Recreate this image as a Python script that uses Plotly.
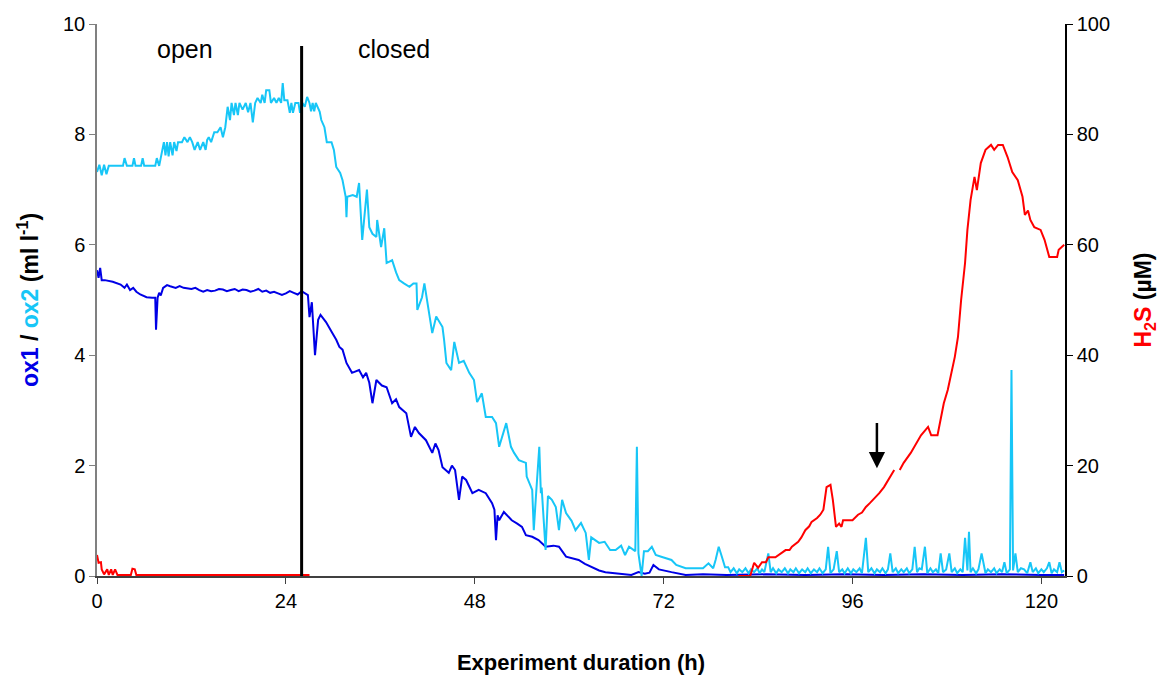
import plotly.graph_objects as go

# ---------------- data ----------------
ox2_t = [0.0, 0.3, 0.6, 0.9, 1.2, 1.5, 2.5, 3.3, 3.5, 3.8, 4.5, 4.7, 4.9, 5.6, 5.8, 6.0, 7.4, 7.6, 7.9,
         8.2, 8.5, 8.7, 8.9, 9.1, 9.3, 9.6, 9.8, 10.1, 10.3, 10.8, 11.1, 11.5, 11.8, 12.1, 12.4, 12.8,
         13.1, 13.5, 13.8, 14.0, 14.2, 14.5, 14.9, 15.3, 15.7, 16.0, 16.3, 16.6, 16.9, 17.1, 17.4, 17.6,
         17.9, 18.1, 18.5, 18.9, 19.2, 19.5, 19.8, 20.1, 20.4, 20.8, 21.0, 21.3, 21.5, 21.9, 22.1, 22.5,
         22.8, 23.1, 23.4, 23.6, 23.8, 24.2, 24.5, 24.7, 24.9, 25.2, 25.6, 25.8, 26.1, 26.4, 26.7, 27.0,
         27.2, 27.4, 27.6, 27.8, 28.3, 28.5, 28.9, 29.2, 29.8, 30.1, 30.4, 30.9, 31.2, 31.6, 31.7, 31.8,
         32.5, 33.0, 33.3, 33.7, 34.0, 34.3, 34.6, 35.0, 35.5, 35.6, 36.1, 36.5, 36.8, 37.5, 38.0, 38.4,
         39.0, 39.7, 40.2, 40.6, 40.7, 41.3, 41.6, 42.0, 42.6, 43.1, 43.9, 44.1, 44.4, 45.0, 45.4, 46.0,
         46.6, 47.3, 47.9, 48.3, 48.9, 49.4, 50.2, 50.7, 51.1, 52.0, 52.6, 53.0, 53.6, 54.5, 54.6, 55.3,
         55.5, 55.8, 56.2, 56.4, 56.5, 57.0, 57.3, 57.8, 58.3, 58.7, 59.1, 59.6, 60.3, 60.8, 61.5, 62.1,
         62.5, 62.8, 63.8, 64.5, 65.2, 65.9, 66.6, 67.1, 67.6, 68.4, 68.6, 68.8, 69.2, 69.5, 70.0, 70.5,
         71.0, 71.7, 72.3, 73.0, 73.6, 74.3, 74.8, 75.5, 76.4, 77.0, 77.7, 78.3, 78.6, 79.0, 79.4, 79.8,
         80.2, 80.5, 80.9, 81.3, 81.6, 82.0, 82.4, 82.8, 83.1, 83.5, 83.9, 84.2, 84.5, 84.8, 85.3, 85.6,
         85.9, 86.3, 86.6, 87.0, 87.4, 87.8, 88.1, 88.5, 88.8, 89.2, 89.6, 90.0, 90.3, 90.7, 91.1, 91.5,
         91.8, 92.2, 92.6, 92.9, 93.2, 93.6, 94.0, 94.3, 94.7, 95.0, 95.4, 95.8, 96.1, 96.5, 96.9, 97.2,
         97.7, 98.0, 98.4, 98.8, 99.1, 99.5, 99.8, 100.2, 100.5, 100.8, 101.1, 101.5, 101.8, 102.2,
         102.5, 102.9, 103.2, 103.6, 103.9, 104.2, 104.5, 104.8, 105.2, 105.5, 105.9, 106.2, 106.6,
         106.9, 107.2, 107.5, 107.9, 108.3, 108.6, 109.0, 109.3, 109.7, 110.0, 110.3, 110.6, 110.8,
         111.0, 111.3, 111.7, 112.0, 112.4, 112.9, 113.2, 113.6, 114.0, 114.3, 114.7, 115.0, 115.3,
         115.6, 116.0, 116.2, 116.4, 116.7, 117.0, 117.4, 117.8, 118.2, 118.6, 118.9, 119.3, 119.6,
         120.0, 120.3, 120.7, 121.0, 121.3, 121.6, 122.0, 122.3, 122.6, 122.9]
ox2_v = [7.32, 7.45, 7.26, 7.45, 7.28, 7.43, 7.43, 7.43, 7.57, 7.43, 7.43, 7.57, 7.43, 7.43, 7.57, 7.43, 7.43, 7.57, 7.43,
         7.66, 7.86, 7.62, 7.86, 7.6, 7.86, 7.62, 7.86, 7.7, 7.86, 7.86, 7.95, 7.86, 7.95, 7.86, 7.72, 7.86,
         7.72, 7.86, 7.72, 7.9, 7.95, 7.86, 8.04, 8.04, 8.13, 7.95, 8.13, 8.5, 8.26, 8.57, 8.35, 8.57,
         8.35, 8.57, 8.45, 8.57, 8.4, 8.57, 8.22, 8.57, 8.66, 8.57, 8.72, 8.57, 8.8, 8.8, 8.57, 8.66,
         8.57, 8.66, 8.57, 8.93, 8.62, 8.62, 8.39, 8.57, 8.39, 8.57, 8.57, 8.39, 8.57, 8.5, 8.68, 8.57,
         8.42, 8.57, 8.42, 8.57, 8.41, 8.26, 8.13, 7.86, 7.86, 7.72, 7.41, 7.3, 7.17, 6.87, 6.5, 6.87,
         6.9, 6.87, 7.12, 6.09, 6.6, 7.0, 6.32, 6.2, 6.14, 6.45, 5.96, 6.3, 5.67, 5.72, 5.5, 5.36,
         5.3, 5.24, 5.3, 5.3, 4.82, 5.05, 5.3, 4.95, 4.4, 4.7, 4.51, 4.28, 3.86, 3.73, 4.24, 3.86,
         3.9, 3.68, 3.55, 3.15, 3.31, 2.88, 2.88, 2.77, 2.34, 2.77, 2.34, 2.23, 2.1, 2.05, 1.8, 1.56,
         0.83, 1.5, 2.34, 1.5, 1.6, 0.47, 1.45, 1.38, 1.25, 0.83, 1.38, 1.14, 1.0, 0.83, 0.96, 0.78,
         0.29, 0.7, 0.6, 0.62, 0.47, 0.47, 0.55, 0.38, 0.53, 0.45, 2.34, 0.41, 0.0, 0.45, 0.45, 0.53,
         0.38, 0.35, 0.32, 0.29, 0.2, 0.16, 0.14, 0.14, 0.14, 0.14, 0.23, 0.14, 0.29, 0.53, 0.35, 0.16,
         0.16, 0.07, 0.14, 0.05, 0.12, 0.07, 0.14, 0.05, 0.12, 0.07, 0.14, 0.05, 0.12, 0.07, 0.41, 0.07,
         0.14, 0.05, 0.12, 0.07, 0.14, 0.05, 0.12, 0.07, 0.14, 0.05, 0.12, 0.07, 0.14, 0.05, 0.12, 0.07,
         0.14, 0.05, 0.12, 0.53, 0.05, 0.12, 0.45, 0.07, 0.12, 0.05, 0.14, 0.05, 0.12, 0.07, 0.14, 0.05,
         0.69, 0.07, 0.14, 0.05, 0.12, 0.07, 0.14, 0.05, 0.12, 0.41, 0.07, 0.14, 0.05, 0.12,
         0.07, 0.14, 0.05, 0.12, 0.53, 0.07, 0.14, 0.12, 0.53, 0.05, 0.14, 0.07, 0.12,
         0.05, 0.41, 0.07, 0.12, 0.41, 0.07, 0.14, 0.05, 0.12, 0.07, 0.69, 0.1,
         0.8, 0.07, 0.14, 0.05, 0.12, 0.41, 0.05, 0.12, 0.07, 0.14, 0.05, 0.12, 0.07,
         0.25, 0.05, 0.12, 3.73, 0.1, 0.41, 0.07, 0.14, 0.12, 0.05, 0.25, 0.07, 0.14, 0.05,
         0.12, 0.07, 0.14, 0.25, 0.05, 0.12, 0.07, 0.25, 0.07, 0.1]

ox1_t = [0.0, 0.2, 0.4, 0.6, 1.0, 2.0, 3.0, 3.5, 3.8, 4.2, 4.6, 5.0, 5.5, 6.3, 7.0, 7.4, 7.5, 7.7, 7.9,
         8.1, 8.4, 8.9, 9.3, 10.0, 10.5, 11.0, 12.0, 12.5, 13.0, 13.5, 14.0, 14.5, 15.0, 15.5, 16.0,
         16.5, 17.0, 17.5, 18.0, 18.5, 19.0, 19.5, 20.0, 20.5, 21.0, 21.5, 22.0, 22.5, 23.0, 23.5, 24.0,
         24.5, 25.0, 25.5, 26.0, 26.5, 26.8, 27.0, 27.3, 27.7, 28.1, 28.4, 29.1, 29.9, 30.4, 30.8, 31.2,
         31.7, 32.4, 33.3, 33.8, 34.2, 34.6, 35.0, 35.5, 36.2, 36.8, 37.5, 38.0, 38.4, 39.3, 39.9, 40.4,
         40.9, 41.8, 42.6, 43.0, 43.4, 43.9, 44.7, 45.1, 45.5, 46.0, 46.4, 46.9, 47.7, 48.5, 49.4, 50.2,
         50.5, 50.7, 50.9, 51.1, 51.7, 52.7, 53.4, 54.0, 54.5, 55.3, 56.1, 57.0, 58.0, 58.7, 59.6, 60.5,
         61.2, 62.0, 62.9, 63.8, 64.6, 66.0, 67.9, 68.8, 69.6, 70.2, 70.7, 71.4, 72.2, 73.0, 74.8, 77.0,
         80.0, 85.0, 90.0, 95.0, 100.0, 105.0, 110.0, 115.0, 120.0, 122.9]
ox1_v = [5.54, 5.4, 5.58, 5.36, 5.36, 5.33, 5.28, 5.22, 5.28, 5.18, 5.22, 5.15, 5.1, 5.05, 5.04, 5.04, 4.46, 5.04, 5.13,
         5.08, 5.22, 5.27, 5.25, 5.22, 5.25, 5.22, 5.2, 5.22, 5.18, 5.15, 5.18, 5.16, 5.17, 5.2, 5.19,
         5.16, 5.18, 5.2, 5.16, 5.19, 5.18, 5.15, 5.17, 5.2, 5.15, 5.17, 5.13, 5.15, 5.12, 5.09, 5.12,
         5.16, 5.13, 5.1, 5.16, 5.12, 5.09, 4.69, 4.96, 4.0, 4.64, 4.73, 4.6, 4.4, 4.28, 4.15, 4.1,
         3.86, 3.68, 3.73, 3.6, 3.68, 3.5, 3.13, 3.55, 3.45, 3.42, 3.13, 3.2, 3.06, 2.95, 2.52, 2.7,
         2.59, 2.46, 2.23, 2.4, 2.28, 1.97, 1.87, 2.0, 1.92, 1.38, 1.8, 1.74, 1.5, 1.56, 1.5, 1.32,
         1.2, 0.65, 1.1, 1.01, 1.16, 1.01, 0.95, 0.89, 0.74, 0.71, 0.65, 0.53, 0.55, 0.53, 0.35, 0.32,
         0.29, 0.22, 0.16, 0.1, 0.07, 0.05, 0.02, 0.07, 0.04, 0.06, 0.2, 0.12, 0.1, 0.07, 0.02, 0.03,
         0.02, 0.03, 0.02, 0.03, 0.02, 0.03, 0.02, 0.03, 0.02, 0.02]

h2s_t = [0.0, 0.2, 0.5, 0.6, 0.9, 1.3, 1.5, 1.8, 2.0, 2.3, 2.6, 3.0, 4.3, 4.5, 4.8, 5.0, 5.2, 27.0,
         27.01,
         81.5, 83.0, 83.5, 84.0, 84.5, 85.0, 85.3, 86.2, 87.5, 88.0, 88.3, 89.1, 89.5, 90.0, 90.5, 90.8,
         91.5, 91.9, 92.3, 92.7, 93.2, 93.5, 93.9, 94.3, 94.6, 94.8, 96.0, 96.7, 97.2, 97.7, 98.2, 98.8,
         99.4, 100.0, 100.3, 100.9, 101.3, 101.35, 102.0, 102.5, 103.4, 104.0, 104.7, 105.6, 106.0,
         106.8, 107.2, 107.6, 108.1, 108.6, 109.0, 109.4, 109.8, 110.3, 110.6, 111.0, 111.5, 111.8,
         112.3, 112.9, 113.6, 114.0, 114.5, 115.1, 115.7, 116.3, 117.0, 117.6, 117.9, 118.3, 118.6,
         119.1, 119.9, 120.4, 121.0, 122.0, 122.2, 122.9]
h2s_v = [3.8, 2.4, 2.5, 1.2, 0.3, 1.2, 0.2, 1.2, 0.2, 1.2, 0.2, 0.2, 0.2, 1.3, 1.2, 0.2, 0.2, 0.2,
         None,
         0.0, 0.0, 2.4, 1.5, 2.5, 2.5, 3.4, 3.4, 4.7, 4.7, 5.3, 6.2, 7.0, 8.3, 9.0, 9.8,
         10.5, 11.1, 12.0, 16.1, 16.5, 13.8, 8.9, 9.5, 8.9, 10.1, 10.1, 11.1, 11.5, 12.5, 13.2, 14.1,
         15.0, 16.1, 16.8, 18.3, 19.2, None, 19.2, 20.5, 22.3, 23.7, 25.5, 27.0, 25.5,
         25.5, 28.3, 31.3, 33.7, 37.3, 39.7, 43.3, 50.0, 56.7, 62.7, 68.1, 72.3, 69.9,
         74.8, 77.2, 78.1, 77.2, 78.1, 78.1, 75.9, 73.2, 71.7, 68.7, 65.4, 66.2, 64.5,
         63.2, 62.7, 60.9, 57.8, 57.8, 59.1, 60.0]

x_ticks = [0, 24, 48, 72, 96, 120]
y1_ticks = [0, 2, 4, 6, 8, 10]
y2_ticks = [0, 20, 40, 60, 80, 100]

C_OX1 = "#0000E6"
C_OX2 = "#17C6F7"
C_H2S = "#FF0000"
FONT = "Liberation Sans, Arial, sans-serif"

fig = go.Figure()
fig.add_trace(go.Scatter(x=h2s_t, y=h2s_v, mode="lines", yaxis="y2", connectgaps=False,
                         line=dict(color=C_H2S, width=2), showlegend=False))
fig.add_trace(go.Scatter(x=ox1_t, y=ox1_v, mode="lines",
                         line=dict(color=C_OX1, width=2), showlegend=False))
fig.add_trace(go.Scatter(x=ox2_t, y=ox2_v, mode="lines",
                         line=dict(color=C_OX2, width=2), showlegend=False))

# open / closed divider
fig.add_shape(type="line", x0=26, x1=26, y0=0, y1=9.6, xref="x", yref="y",
              line=dict(color="black", width=3))

fig.add_annotation(x=11.2, y=9.55, xref="x", yref="y", text="open", showarrow=False,
                   font=dict(size=25, color="black", family=FONT))
fig.add_annotation(x=37.8, y=9.55, xref="x", yref="y", text="closed", showarrow=False,
                   font=dict(size=25, color="black", family=FONT))

# arrow
fig.add_annotation(x=99.1, y=1.95, ax=99.1, ay=2.8, xref="x", yref="y", axref="x", ayref="y",
                   text="", showarrow=True, arrowhead=2, arrowsize=1.3, arrowwidth=2.5,
                   arrowcolor="black")

fig.update_layout(
    width=1167, height=675,
    margin=dict(l=97, r=102, t=24, b=99, autoexpand=False),
    paper_bgcolor="white", plot_bgcolor="white",
    font=dict(family=FONT, size=20, color="black"),
    xaxis=dict(range=[0, 123], tickvals=x_ticks, ticks="outside", ticklen=6, tickcolor="#404040",
               showline=True, linecolor="#404040", linewidth=1.5, showgrid=False, zeroline=False,
               layer="below traces", automargin=False,
               title=dict(text="<b>Experiment duration (h)</b>", standoff=44,
                          font=dict(size=22, family=FONT))),
    yaxis=dict(range=[0, 10], tickvals=y1_ticks, ticks="outside", ticklen=6, tickcolor="#808080",
               showline=True, linecolor="#808080", linewidth=1.5, showgrid=False, zeroline=False,
               layer="below traces", automargin=False,
               title=dict(text="<b><span style='color:#0000E6'>ox1</span> / "
                               "<span style='color:#17C6F7'>ox2</span> (ml l<sup>-1</sup>)</b>",
                          standoff=18, font=dict(size=23, family=FONT))),
    yaxis2=dict(range=[0, 100], tickvals=y2_ticks, ticks="outside", ticklen=6, tickcolor="black",
                overlaying="y", side="right", showline=True, linecolor="black", linewidth=1.5,
                showgrid=False, zeroline=False, automargin=False,
                title=dict(text="<b><span style='color:#FF0000'>H<sub>2</sub>S</span> (µM)</b>",
                           standoff=26, font=dict(size=23, family=FONT))),
)

fig.write_html("out.html")
